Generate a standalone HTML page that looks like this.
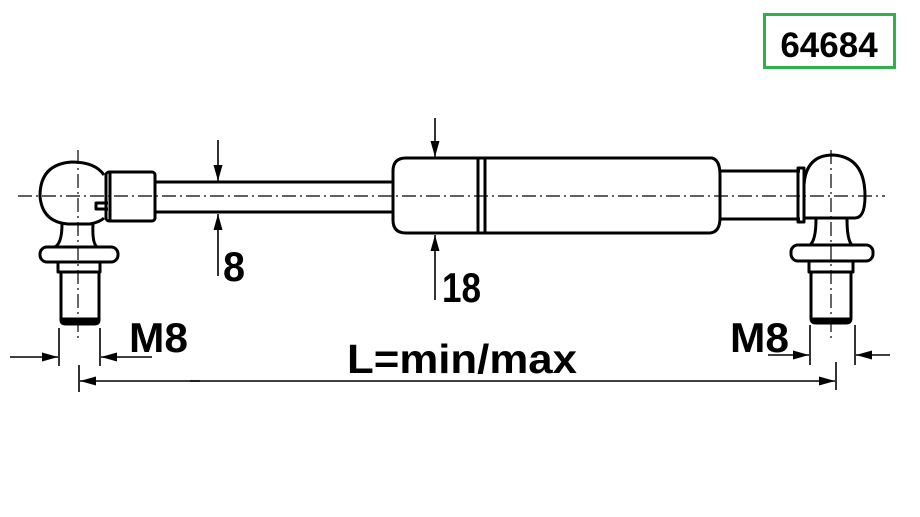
<!DOCTYPE html>
<html><head><meta charset="utf-8"><style>
html,body{margin:0;padding:0;background:#fff;}
svg{display:block;}
text{font-family:"Liberation Sans",sans-serif;font-weight:bold;fill:#000;}
</style></head><body>
<svg width="920" height="517" viewBox="0 0 920 517" xmlns="http://www.w3.org/2000/svg">
<defs>
<marker id="ar" viewBox="0 0 16 10" refX="16" refY="5" markerWidth="16" markerHeight="10" markerUnits="userSpaceOnUse" orient="auto"><path d="M0,0.5 L16,5 L0,9.5 Z" fill="#000"/></marker>
</defs>
<rect x="764.5" y="14.5" width="130" height="53" fill="#fff" stroke="#2fb14a" stroke-width="3"/>
<text x="829" y="57" font-size="35" text-anchor="middle">64684</text>

<g stroke="#000" stroke-width="1.2" stroke-dasharray="14 4 2 4" fill="none">
<line x1="18" y1="196" x2="885" y2="196"/>
<line x1="78" y1="150" x2="78" y2="340"/>
<line x1="831" y1="150" x2="831" y2="340"/>
</g>

<g stroke="#000" stroke-width="3" fill="none" stroke-linejoin="round">
<!-- left end -->
<path d="M104,175 Q95,162 72,162 Q40,164 40,196 Q42,222 68,224 L90,224 Q100,222 104,218"/>
<rect x="106" y="172" width="49" height="49" rx="3"/>
<line x1="110" y1="172" x2="110" y2="221"/>
<path d="M108,203 h-12 v6 h12"/>
<line x1="155" y1="182" x2="394" y2="182"/>
<line x1="155" y1="212" x2="394" y2="212"/>
<path d="M62,224 Q62,243 55,247 L97,247 Q92,243 93,224"/>
<rect x="40" y="247" width="78" height="15" rx="7"/>
<rect x="58" y="262" width="42" height="10"/>
<path d="M61,272 V320 Q61,324 66,324 H94 Q99,324 99,320 V272"/>
<line x1="62" y1="320" x2="98" y2="320" stroke-width="5"/>
<!-- cylinder -->
<path d="M406,158 H712 Q720,160 720,175 V218 Q720,232 710,233 H406 Q393,233 393,220 V171 Q393,158 406,158 Z"/>
<line x1="478" y1="158" x2="478" y2="233"/>
<line x1="485" y1="158" x2="485" y2="233"/>
<!-- right end -->
<line x1="720" y1="171" x2="800" y2="171"/>
<line x1="720" y1="219" x2="800" y2="219"/>
<rect x="798" y="168" width="6" height="54"/>
<path d="M804,218 V185 Q806,155 833,155 Q865,157 865,196 Q865,218 855,218 Z"/>
<path d="M816,219 Q816,240 810,245 L852,245 Q847,240 847,219"/>
<rect x="791" y="245" width="82" height="16" rx="7"/>
<rect x="809" y="261" width="44" height="11"/>
<path d="M811,272 V318 Q811,323 816,323 H846 Q851,323 851,318 V272"/>
<line x1="812" y1="320" x2="850" y2="320" stroke-width="5"/>
</g>

<g stroke="#000" stroke-width="1.6" fill="none">
<line x1="218" y1="140" x2="218" y2="181" marker-end="url(#ar)"/>
<line x1="218" y1="276" x2="218" y2="214" marker-end="url(#ar)"/>
<line x1="435" y1="118" x2="435" y2="157" marker-end="url(#ar)"/>
<line x1="435" y1="300" x2="435" y2="235" marker-end="url(#ar)"/>
<line x1="59" y1="328" x2="59" y2="366"/>
<line x1="100" y1="328" x2="100" y2="366"/>
<line x1="10" y1="357" x2="58" y2="357" marker-end="url(#ar)"/>
<line x1="152" y1="357" x2="101" y2="357" marker-end="url(#ar)"/>
<line x1="810" y1="325" x2="810" y2="365"/>
<line x1="855" y1="325" x2="855" y2="365"/>
<line x1="768" y1="355" x2="809" y2="355" marker-end="url(#ar)"/>
<line x1="890" y1="355" x2="856" y2="355" marker-end="url(#ar)"/>
<line x1="79" y1="365" x2="79" y2="392"/>
<line x1="836" y1="362" x2="836" y2="390"/>
<line x1="200" y1="381" x2="80" y2="381" marker-end="url(#ar)"/>
<line x1="190" y1="381" x2="835" y2="381" marker-end="url(#ar)"/>
</g>

<text x="223" y="281" font-size="42" textLength="22" lengthAdjust="spacingAndGlyphs">8</text>
<text x="442" y="302" font-size="42" textLength="39" lengthAdjust="spacingAndGlyphs">18</text>
<text x="129" y="352" font-size="42" textLength="59" lengthAdjust="spacingAndGlyphs">M8</text>
<text x="730" y="352" font-size="42" textLength="59" lengthAdjust="spacingAndGlyphs">M8</text>
<text x="347" y="373" font-size="41" textLength="230" lengthAdjust="spacingAndGlyphs">L=min/max</text>
</svg>
</body></html>
